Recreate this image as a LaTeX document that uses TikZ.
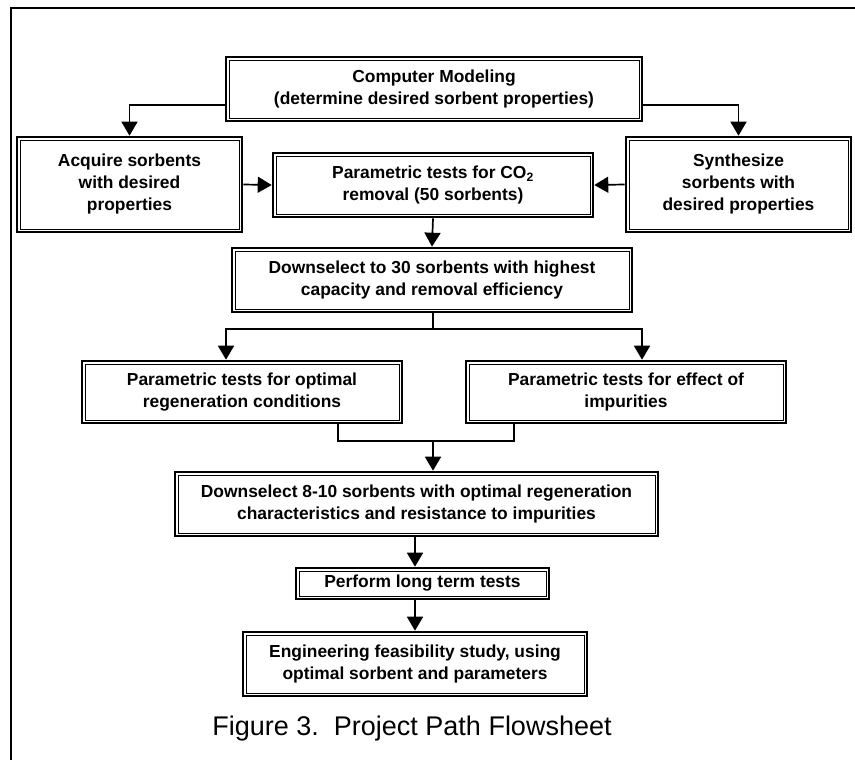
\documentclass[tikz,border=0pt]{standalone}
\usepackage{fontspec}
\setmainfont{Liberation Sans}
\usepackage{tikz}
\usetikzlibrary{arrows.meta}

\begin{document}
\begin{tikzpicture}[x=1pt, y=-1pt,
stage/.style={draw, line width=2.6pt, align=center, inner sep=0pt,
  font=\fontsize{17.4}{22}\selectfont\bfseries,
  path picture={\draw[line width=0.9pt]
    ([shift={(3pt,3pt)}]path picture bounding box.south west) rectangle
    ([shift={(-3pt,-3pt)}]path picture bounding box.north east);}},
link/.style={line width=1.7pt, -{Triangle[length=14pt, width=16pt]}},
]
\useasboundingbox (0,0) rectangle (855,760);
\draw[line width=1.6pt] (11,760) -- (11,8) -- (855,8);

\node[stage, minimum width=416pt, minimum height=64pt] (model) at (434,89)
  {Computer Modeling\\(determine desired sorbent properties)};
\node[stage, minimum width=225pt, minimum height=95pt] (acquire) at (129.5,184.5)
  {Acquire sorbents\\with desired\\properties};
\node[stage, minimum width=320pt, minimum height=64pt] (param) at (433,185)
  {Parametric tests for CO\textsubscript{2}\\removal (50 sorbents)};
\node[stage, minimum width=225pt, minimum height=95pt] (synth) at (738.5,184.5)
  {Synthesize\\sorbents with\\desired properties};
\node[stage, minimum width=400pt, minimum height=64pt] (down30) at (432,280)
  {Downselect to 30 sorbents with highest\\capacity and removal efficiency};
\node[stage, minimum width=320pt, minimum height=62pt] (regen) at (242,392)
  {Parametric tests for optimal\\regeneration conditions};
\node[stage, minimum width=320pt, minimum height=62pt] (impur) at (626,392)
  {Parametric tests for effect of\\impurities};
\node[stage, minimum width=483pt, minimum height=64pt] (down8) at (416.5,504)
  {Downselect 8-10 sorbents with optimal regeneration\\characteristics and resistance to impurities};
\node[stage, minimum width=253pt, minimum height=31pt] (longterm) at (422.5,583.5)
  {Perform long term tests};
\node[stage, minimum width=344pt, minimum height=64pt] (engin) at (415,664)
  {Engineering feasibility study, using\\optimal sorbent and parameters};
\node[font=\fontsize{27}{32}\selectfont] (caption) at (412,729)
  {Figure 3.\ \ Project Path Flowsheet};

\coordinate (split) at (433,329);
\coordinate (join) at (433,441);

\draw[link] ([yshift=-16pt]model.west) -| (acquire.north);
\draw[link] ([yshift=-16pt]model.east) -| (synth.north);
\draw[link] (acquire.east) -- (param.west);
\draw[link] (synth.west) -- (param.east);
\draw[link] (param.south) -- (down30.north);
\draw[line width=1.7pt] (down30.south -| split) -- (split);
\draw[link] (split) -| ([xshift=-16pt]regen.north);
\draw[link] (split) -| ([xshift=16pt]impur.north);
\draw[line width=1.7pt] ([xshift=96pt]regen.south) |- (join) -| ([xshift=-112pt]impur.south);
\draw[link] (join) -- (join |- down8.north);
\draw[link] ([xshift=-1.5pt]down8.south) -- ([xshift=-1.5pt]down8.south |- longterm.north);
\draw[link] (engin.north |- longterm.south) -- (engin.north);

\end{tikzpicture}
\end{document}
